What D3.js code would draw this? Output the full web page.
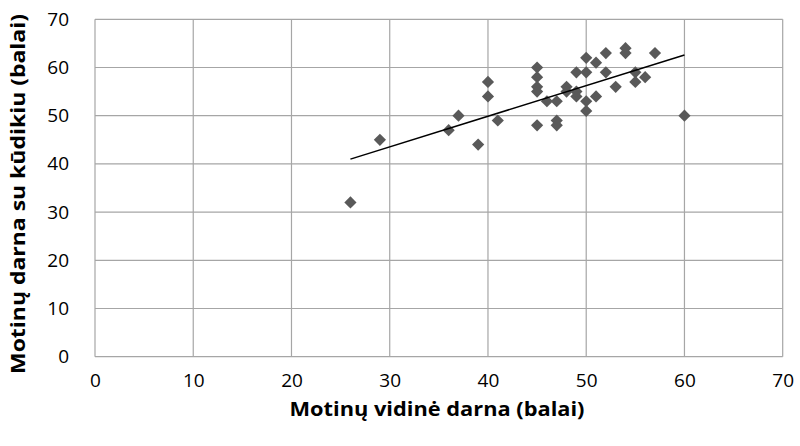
<!DOCTYPE html>
<html>
<head>
<meta charset="utf-8">
<script src="https://cdn.jsdelivr.net/npm/d3@7"></script>
<style>
  body { margin: 0; background: #fff; }
  svg { display: block; }
  text { font-family: "Open Sans", Lato, sans-serif; }
</style>
</head>
<body>
<svg id="chart" width="800" height="446"></svg>
<script>
const xValues = [26, 29, 36, 37, 39, 40, 40, 41, 45, 45, 45, 45, 45, 46, 47, 47, 47, 48, 48, 49, 49, 49, 50, 50, 50, 50, 51, 51, 52, 52, 53, 54, 54, 55, 55, 56, 57, 60];
const yValues = [32, 45, 47, 50, 44, 57, 54, 49, 60, 58, 56, 55, 48, 53, 53, 49, 48, 56, 55, 59, 54, 55, 62, 59, 53, 51, 61, 54, 63, 59, 56, 64, 63, 59, 57, 58, 63, 50];
const xTicks = [0, 10, 20, 30, 40, 50, 60, 70];
const yTicks = [0, 10, 20, 30, 40, 50, 60, 70];
const xTitle = "Motinų vidinė darna (balai)";
const yTitle = "Motinų darna su kūdikiu (balai)";

const svg = d3.select("#chart");
const m = { left: 95, right: 17.3, top: 19.3, bottom: 89.3 };
const W = 800, H = 446;
const x = d3.scaleLinear().domain([0, 70]).range([m.left, W - m.right]);
const y = d3.scaleLinear().domain([0, 70]).range([H - m.bottom, m.top]);

// gridlines
const g = svg.append("g");
g.selectAll("line.v").data(xTicks).join("line")
  .attr("x1", d => x(d)).attr("x2", d => x(d))
  .attr("y1", y(0)).attr("y2", y(70))
  .attr("stroke", "#a6a6a6").attr("stroke-width", 1.2);
g.selectAll("line.h").data(yTicks).join("line")
  .attr("x1", x(0)).attr("x2", x(70))
  .attr("y1", d => y(d)).attr("y2", d => y(d))
  .attr("stroke", "#a6a6a6").attr("stroke-width", 1.2);

// axes labels
const xAxis = d3.axisBottom(x).tickValues(xTicks).tickSize(0).tickPadding(17);
svg.append("g").attr("transform", `translate(0,${y(0)})`).call(xAxis)
  .call(s => s.select(".domain").remove())
  .selectAll("text").attr("font-size", 19).attr("fill", "#000")
  .style("font-family", "'Open Sans', Lato, sans-serif");
const yAxis = d3.axisLeft(y).tickValues(yTicks).tickSize(0).tickPadding(26);
svg.append("g").attr("transform", `translate(${x(0)},0)`).call(yAxis)
  .call(s => s.select(".domain").remove())
  .selectAll("text").attr("font-size", 19).attr("fill", "#000")
  .style("font-family", "'Open Sans', Lato, sans-serif");

// titles
svg.append("text").attr("x", 437).attr("y", 416).attr("text-anchor", "middle")
  .attr("font-size", 20).attr("font-weight", "bold")
  .attr("textLength", 295).attr("lengthAdjust", "spacingAndGlyphs").text(xTitle);
svg.append("text").attr("transform", `translate(25,194) rotate(-90)`).attr("text-anchor", "middle")
  .attr("font-size", 20).attr("font-weight", "bold")
  .attr("textLength", 360).attr("lengthAdjust", "spacingAndGlyphs").text(yTitle);

// points
const pts = xValues.map((v, i) => [v, yValues[i]]);
const sym = d3.symbol().type(d3.symbolDiamond2).size(95);
svg.append("g").selectAll("path").data(pts).join("path")
  .attr("d", sym)
  .attr("transform", d => `translate(${x(d[0])},${y(d[1])})`)
  .attr("fill", "#595959");

// linear trendline (least squares)
const mx = d3.mean(xValues), my = d3.mean(yValues);
const b = d3.sum(pts, d => (d[0] - mx) * (d[1] - my)) / d3.sum(pts, d => (d[0] - mx) ** 2);
const a = my - b * mx;
const xr = d3.extent(xValues);
svg.append("line")
  .attr("x1", x(xr[0])).attr("y1", y(a + b * xr[0]))
  .attr("x2", x(xr[1])).attr("y2", y(a + b * xr[1]))
  .attr("stroke", "#000").attr("stroke-width", 1.5);
</script>
</body>
</html>
